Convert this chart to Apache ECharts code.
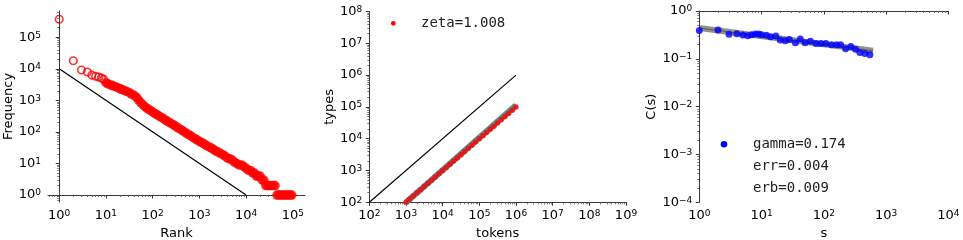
<!DOCTYPE html>
<html>
<head>
<meta charset="utf-8">
<script src="https://cdn.jsdelivr.net/npm/echarts@6/dist/echarts.min.js"></script>
<style>
  html, body { margin: 0; padding: 0; background: #fff; }
  #main { width: 963px; height: 240px; }
</style>
</head>
<body>
<div id="main"></div>
<script>
// panel 1 : rank / frequency (Zipf)
var headRank = [1, 2, 3, 4, 5, 6, 7, 8, 9];
var headFreq = [370000, 18000, 9100, 7900, 6300, 5800, 5500, 5100, 4600];
var bodyRank = [10, 11, 13, 14, 16, 18, 20, 22, 25, 28, 32, 35, 40, 45, 50, 56, 63, 71, 79, 89,
  100, 112, 126, 141, 158, 178, 200, 224, 251, 282, 316, 355, 398, 447, 501, 562, 631, 708, 794, 891,
  1000, 1122, 1259, 1413, 1585, 1778, 1995, 2239, 2512, 2818, 3162, 3548, 3981, 4467, 5012, 5623, 6310, 7079, 7943, 8913,
  10000, 11200, 12600, 13800, 15100, 16600, 18200, 20000, 21900, 24000, 26300, 28800, 31600, 34700, 38000, 41700,
  45700, 50100, 55000, 60300, 66100, 72400, 79400, 87100, 95000];
var bodyFreq = [3631, 3311, 3090, 2884, 2692, 2512, 2344, 2188, 2042, 1905, 1738, 1585, 1445, 1259, 1023, 832, 708, 603, 537, 479,
  427, 380, 347, 309, 282, 251, 224, 204, 182, 166, 148, 132, 120, 107, 95, 85, 78, 69, 62, 56,
  50, 46, 42, 37, 34, 31, 28, 25, 23, 21, 19, 17, 15, 14, 13, 11, 10, 9, 9, 8,
  7, 6, 6, 5, 5, 4, 4, 4, 3, 3, 2, 2, 2, 2, 2, 2,
  1, 1, 1, 1, 1, 1, 1, 1, 1];
var refRank = [1, 10000];
var refFreq = [10000, 1];

// panel 2 : tokens / types (Heaps)
var tokens = [1000, 1259, 1585, 1995, 2512, 3162, 3981, 5012, 6310, 7943,
  10000, 12589, 15849, 19953, 25119, 31623, 39811, 50119, 63096, 79433,
  100000, 125893, 158489, 199526, 251189, 316228, 398107, 501187, 630957, 794328, 1000000];
var types = [100, 126, 158, 199, 250, 315, 396, 498, 627, 789,
  993, 1250, 1573, 1980, 2492, 3136, 3947, 4967, 6252, 7868,
  9903, 12460, 15690, 19740, 24850, 31270, 39360, 49530, 62340, 78470, 100000];
var fitTokens = [1000, 1000000];
var fitTypes = [98, 112000];
var diagTokens = [100, 1000000];
var diagTypes = [100, 1000000];

// panel 3 : s / C(s)
var sVals = [1, 2, 3, 4, 5, 6, 7, 8, 9, 10, 12, 14, 17, 20, 24, 28, 35, 42, 50, 61,
  75, 90, 108, 133, 160, 186, 224, 272, 324, 380, 457, 550];
var cVals = [0.39, 0.40, 0.325, 0.336, 0.315, 0.305, 0.32, 0.33, 0.33, 0.32, 0.31, 0.29, 0.30, 0.247, 0.24, 0.255, 0.217, 0.26, 0.217, 0.232,
  0.21, 0.21, 0.21, 0.198, 0.198, 0.198, 0.163, 0.18, 0.158, 0.136, 0.13, 0.122];
var fitS = [1, 620];
var fitC = [0.44, 0.147];

// tick exponents
var xTicks1 = [0, 1, 2, 3, 4, 5], yTicks1 = [0, 1, 2, 3, 4, 5];
var xTicks2 = [2, 3, 4, 5, 6, 7, 8, 9], yTicks2 = [2, 3, 4, 5, 6, 7, 8];
var xTicks3 = [0, 1, 2, 3, 4], yTicks3 = [-4, -3, -2, -1, 0];

var chart = echarts.init(document.getElementById('main'));
var lg = Math.log10;
function pts(xs, ys) { return xs.map(function (x, i) { return [lg(x), lg(ys[i])]; }); }

// minor ticks at 2..9 x 10^k
function minors(lo, hi) {
  var out = [];
  for (var d = Math.floor(lo); d <= Math.ceil(hi); d++) {
    for (var m = 2; m <= 9; m++) {
      var v = d + lg(m);
      if (v >= lo && v <= hi) out.push(v);
    }
  }
  return out;
}

var tickFont = 'DejaVu Sans';
function fmt(v) {
  v = Math.round(v);
  return '10{s|' + (v < 0 ? '\u2212' + (-v) : v) + '}';
}

function mainAxis(grid, min, max, ticks, name, gap) {
  return {
    type: 'value', gridIndex: grid, min: min, max: max,
    name: name, nameLocation: 'middle', nameGap: gap,
    nameTextStyle: { fontSize: 13, color: '#000', fontFamily: tickFont },
    axisLine: { show: true, lineStyle: { color: '#3a3a3a', width: 1 } },
    axisTick: { show: true, length: 3.5, customValues: ticks, lineStyle: { color: '#3a3a3a', width: 1 } },
    axisLabel: {
      customValues: ticks, formatter: fmt, fontSize: 13, color: '#000', fontFamily: tickFont, margin: 7,
      rich: { s: { fontSize: 9, fontFamily: tickFont, color: '#000', verticalAlign: 'top', lineHeight: 8 } }
    },
    splitLine: { show: false }
  };
}
function minorAxis(grid, min, max, pos) {
  return {
    type: 'value', gridIndex: grid, min: min, max: max, position: pos,
    axisLine: { show: false },
    axisTick: { show: true, length: 2, customValues: minors(min, max), lineStyle: { color: '#555', width: 0.8 } },
    axisLabel: { show: false },
    splitLine: { show: false }
  };
}

var ranges = [
  { x: [-0.24, 5.26], y: [-0.22, 5.83] },
  { x: [2, 9], y: [2, 8] },
  { x: [0, 4], y: [-4, 0] }
];

var option = {
  animation: false,
  backgroundColor: '#fff',
  grid: [
    { left: 48, top: 11, width: 257, height: 191, outerBoundsMode: 'none' },
    { left: 369.3, top: 11.5, width: 256.7, height: 190.8, outerBoundsMode: 'none' },
    { left: 699.3, top: 11, width: 249, height: 191.3, outerBoundsMode: 'none' }
  ],
  xAxis: [
    mainAxis(0, ranges[0].x[0], ranges[0].x[1], xTicks1, 'Rank', 22),
    mainAxis(1, 2, 9, xTicks2, 'tokens', 22),
    mainAxis(2, 0, 4, xTicks3, 's', 22),
    minorAxis(0, ranges[0].x[0], ranges[0].x[1], 'bottom'),
    minorAxis(1, 2, 9, 'bottom'),
    minorAxis(2, 0, 4, 'bottom')
  ],
  yAxis: [
    mainAxis(0, ranges[0].y[0], ranges[0].y[1], yTicks1, 'Frequency', 31),
    mainAxis(1, 2, 8, yTicks2, 'types', 31),
    mainAxis(2, -4, 0, yTicks3, 'C(s)', 41),
    minorAxis(0, ranges[0].y[0], ranges[0].y[1], 'left'),
    minorAxis(1, 2, 8, 'left'),
    minorAxis(2, -4, 0, 'left')
  ],
  graphic: [
    { type: 'circle', shape: { cx: 393.3, cy: 23.3, r: 2.4 }, style: { fill: '#ff0000' } },
    { type: 'text', x: 421, y: 23.5, style: { text: 'zeta=1.008', font: '14px "DejaVu Sans Mono"', fill: '#222', textVerticalAlign: 'middle', verticalAlign: 'middle' } },
    { type: 'circle', shape: { cx: 724, cy: 144.3, r: 3.3 }, style: { fill: '#0000ff' } },
    { type: 'text', x: 753, y: 144.5, style: { text: 'gamma=0.174', font: '14px "DejaVu Sans Mono"', fill: '#222', textVerticalAlign: 'middle', verticalAlign: 'middle' } },
    { type: 'text', x: 753, y: 166.7, style: { text: 'err=0.004', font: '14px "DejaVu Sans Mono"', fill: '#222', textVerticalAlign: 'middle', verticalAlign: 'middle' } },
    { type: 'text', x: 753, y: 188.5, style: { text: 'erb=0.009', font: '14px "DejaVu Sans Mono"', fill: '#222', textVerticalAlign: 'middle', verticalAlign: 'middle' } }
  ],
  series: [
    {
      type: 'line', xAxisIndex: 0, yAxisIndex: 0, data: pts(refRank, refFreq),
      symbol: 'none', lineStyle: { color: '#000', width: 1.2 }, z: 1
    },
    {
      type: 'scatter', xAxisIndex: 0, yAxisIndex: 0, data: pts(headRank, headFreq),
      symbol: 'circle', symbolSize: 7.5,
      itemStyle: { color: 'rgba(0,0,0,0)', borderColor: '#ff0000', borderWidth: 1.6 }, z: 3
    },
    {
      type: 'scatter', xAxisIndex: 0, yAxisIndex: 0, data: pts(bodyRank, bodyFreq),
      symbol: 'circle', symbolSize: 9.5,
      itemStyle: { color: '#ff0000' }, z: 3
    },
    {
      type: 'line', xAxisIndex: 1, yAxisIndex: 1, data: pts(diagTokens, diagTypes),
      symbol: 'none', lineStyle: { color: '#000', width: 1.2 }, z: 1
    },
    {
      type: 'line', xAxisIndex: 1, yAxisIndex: 1, data: pts(fitTokens, fitTypes),
      symbol: 'none', lineStyle: { color: '#4f8f92', width: 6 }, z: 2
    },
    {
      type: 'scatter', xAxisIndex: 1, yAxisIndex: 1, data: pts(tokens, types),
      symbol: 'circle', symbolSize: 5.5, itemStyle: { color: '#ff0000' }, z: 3
    },
    {
      type: 'line', xAxisIndex: 2, yAxisIndex: 2, data: pts(fitS, fitC),
      symbol: 'none', lineStyle: { color: 'rgba(110,110,100,0.75)', width: 6 }, z: 2
    },
    {
      type: 'line', xAxisIndex: 2, yAxisIndex: 2, data: pts(fitS, fitC),
      symbol: 'none', lineStyle: { color: '#5a5a5a', width: 1 }, z: 2
    },
    {
      type: 'scatter', xAxisIndex: 2, yAxisIndex: 2, data: pts(sVals, cVals),
      symbol: 'circle', symbolSize: 7, itemStyle: { color: '#0000ff' }, z: 3
    }
  ]
};

chart.setOption(option);
</script>
</body>
</html>
